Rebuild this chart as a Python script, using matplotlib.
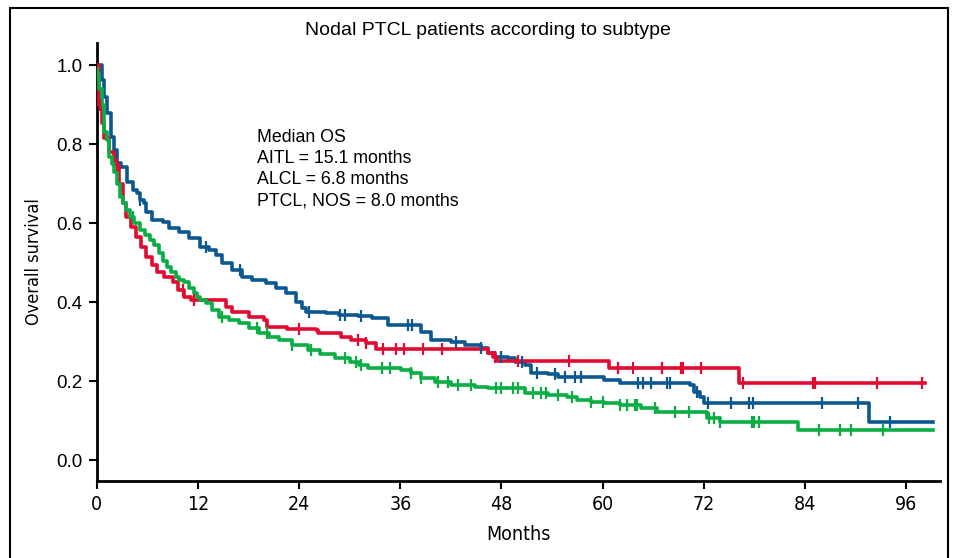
import numpy as np
import matplotlib.pyplot as plt
from matplotlib.patches import Rectangle

# Kaplan-Meier step points (months, survival)
aitl_t = [0, 0.6, 0.83, 1.18, 1.65, 2.0, 2.36, 2.83, 3.54, 4.25, 4.72, 5.08, 5.55, 5.9, 6.6, 7.8,
          8.6, 9.8, 11.0, 12.2, 13.3, 14.2, 14.9, 16.1, 17.2, 18.4, 20.1, 21.3, 22.4, 23.6, 24.3,
          24.8, 27.2, 28.7, 31.0, 32.6, 34.6, 38.5, 39.7, 42.0, 43.7, 45.6, 46.4, 47.2, 48.8, 49.6,
          50.8, 51.5, 53.5, 54.7, 60.2, 62.1, 70.4, 70.8, 71.5, 72.0, 91.6, 99.2]
aitl_s = [1.0, 0.962, 0.919, 0.878, 0.818, 0.785, 0.752, 0.742, 0.705, 0.684, 0.676, 0.658, 0.651,
          0.628, 0.608, 0.603, 0.587, 0.577, 0.562, 0.539, 0.532, 0.519, 0.499, 0.481, 0.463, 0.456,
          0.448, 0.435, 0.423, 0.400, 0.385, 0.375, 0.372, 0.367, 0.365, 0.359, 0.342, 0.324, 0.304,
          0.299, 0.291, 0.284, 0.271, 0.261, 0.258, 0.248, 0.240, 0.220, 0.218, 0.210, 0.203, 0.195,
          0.190, 0.172, 0.159, 0.144, 0.097, 0.097]
aitl_cens = [5.1, 12.9, 17.0, 25.2, 28.9, 29.5, 31.3, 36.9, 37.4, 42.6, 45.6, 48.0, 50.5, 52.2,
             54.3, 55.5, 56.7, 57.4, 64.2, 64.8, 65.8, 67.7, 68.0, 71.2, 72.5, 75.2, 77.4, 77.8,
             86.0, 90.3, 94.1]

alcl_t = [0, 0.3, 0.6, 0.9, 1.4, 2.1, 2.6, 3.1, 3.5, 4.1, 4.7, 5.3, 5.9, 6.5, 7.2, 8.0, 9.0, 9.6,
          10.4, 11.2, 15.3, 16.1, 18.1, 19.8, 20.2, 22.6, 26.0, 26.3, 29.0, 30.2, 31.9, 33.1, 46.4,
          47.0, 47.5, 60.8, 76.2, 98.3]
alcl_s = [1.0, 0.90, 0.853, 0.815, 0.78, 0.747, 0.70, 0.65, 0.615, 0.59, 0.565, 0.539, 0.514, 0.494,
          0.476, 0.463, 0.451, 0.43, 0.413, 0.405, 0.387, 0.375, 0.362, 0.354, 0.337, 0.332, 0.329,
          0.322, 0.311, 0.304, 0.296, 0.282, 0.271, 0.261, 0.251, 0.233, 0.195, 0.195]
alcl_cens = [0.4, 2.4, 10.2, 11.5, 24.0, 31.0, 31.9, 33.9, 35.5, 36.5, 38.7, 41.0, 47.2, 50.0,
             56.0, 61.8, 63.6, 67.0, 69.3, 69.5, 71.7, 76.7, 85.0, 85.2, 92.6, 97.9]

nos_t = [0, 0.3, 0.6, 0.9, 1.2, 1.5, 1.8, 2.1, 2.4, 2.7, 3.1, 3.5, 3.9, 4.4, 5.1, 5.7, 6.3, 6.8,
         7.4, 7.9, 8.3, 8.8, 9.4, 9.8, 10.4, 11.0, 11.5, 11.9, 12.2, 13.0, 13.7, 14.5, 15.7, 16.9,
         18.1, 19.2, 20.4, 21.6, 23.1, 25.1, 26.5, 28.3, 30.0, 31.1, 32.2, 36.1, 37.3, 38.5, 40.1,
         42.0, 44.9, 46.4, 50.8, 53.5, 55.8, 57.0, 58.6, 60.2, 62.1, 64.5, 66.5, 72.4, 73.9, 83.2,
         99.2]
nos_s = [0.98, 0.94, 0.90, 0.83, 0.81, 0.767, 0.75, 0.73, 0.70, 0.666, 0.65, 0.632, 0.615, 0.60,
         0.582, 0.57, 0.557, 0.544, 0.524, 0.505, 0.489, 0.475, 0.463, 0.456, 0.45, 0.435, 0.424,
         0.413, 0.405, 0.397, 0.38, 0.362, 0.354, 0.347, 0.334, 0.322, 0.311, 0.304, 0.291, 0.278,
         0.268, 0.258, 0.248, 0.24, 0.233, 0.228, 0.22, 0.208, 0.197, 0.19, 0.185, 0.182, 0.17,
         0.165, 0.16, 0.152, 0.147, 0.144, 0.139, 0.132, 0.122, 0.106, 0.096, 0.077, 0.077]
nos_cens = [0.2, 4.3, 14.8, 19.0, 20.2, 23.1, 25.4, 29.5, 30.7, 31.4, 33.8, 34.8, 37.3, 38.5, 40.5,
            41.7, 42.9, 44.4, 47.3, 47.9, 49.4, 50.0, 51.7, 52.7, 53.3, 54.7, 56.4, 58.6, 60.0, 62.1,
            62.9, 63.8, 64.1, 66.2, 68.6, 70.2, 72.6, 73.2, 73.9, 77.7, 78.0, 78.6, 85.7, 88.2, 89.5,
            93.3]

series = [
    (aitl_t, aitl_s, aitl_cens, '#0b5891'),
    (alcl_t, alcl_s, alcl_cens, '#e30a32'),
    (nos_t, nos_s, nos_cens, '#0aae45'),
]

narrow = dict(family=['DejaVu Sans'], stretch='condensed')
regular = dict(family=['Liberation Sans', 'DejaVu Sans'])

fig = plt.figure(figsize=(9.58, 5.58), dpi=100)
ax = fig.add_axes([0.101, 0.138, 0.880, 0.785])

for t, s, cens, col in series:
    t = np.array(t)
    s = np.array(s)
    ax.step(t, s, where='post', color=col, lw=2.6, zorder=3)
    c = np.array(cens)
    idx = np.searchsorted(t, c, side='right') - 1
    ax.plot(c, s[idx], ls='none', marker='|', ms=8, mew=1.6, color=col, zorder=4)

ax.set_xlim(0, 100)
ax.set_ylim(-0.053, 1.056)
ax.set_xticks(np.arange(0, 97, 12))
ax.set_yticks(np.arange(0, 1.01, 0.2))
ax.set_yticklabels([f'{v:.1f}' for v in np.arange(0, 1.01, 0.2)], fontsize=13.5, **regular)
ax.set_xticklabels([str(v) for v in range(0, 97, 12)], fontsize=14, **narrow)
for side in ['top', 'right']:
    ax.spines[side].set_visible(False)
for side in ['left', 'bottom']:
    ax.spines[side].set_linewidth(2)
ax.tick_params(direction='out', length=6, width=1.5, pad=4)

ax.set_xlabel('Months', fontsize=14, labelpad=8, **narrow)
ax.set_ylabel('Overall survival', fontsize=13, labelpad=10, **narrow)

fig.text(0.509, 0.946, 'Nodal PTCL patients according to subtype', ha='center', va='center',
         fontsize=14, **regular)

note = 'Median OS\nAITL = 15.1 months\nALCL = 6.8 months\nPTCL, NOS = 8.0 months'
fig.text(0.268, 0.768, note, ha='left', va='top', linespacing=1.3, fontsize=12.8, **regular)

fig.add_artist(Rectangle((0.0105, -0.05), 0.979, 1.036, transform=fig.transFigure,
                         fill=False, lw=1.5, ec='black'))

fig.savefig('out.png', dpi=100)
